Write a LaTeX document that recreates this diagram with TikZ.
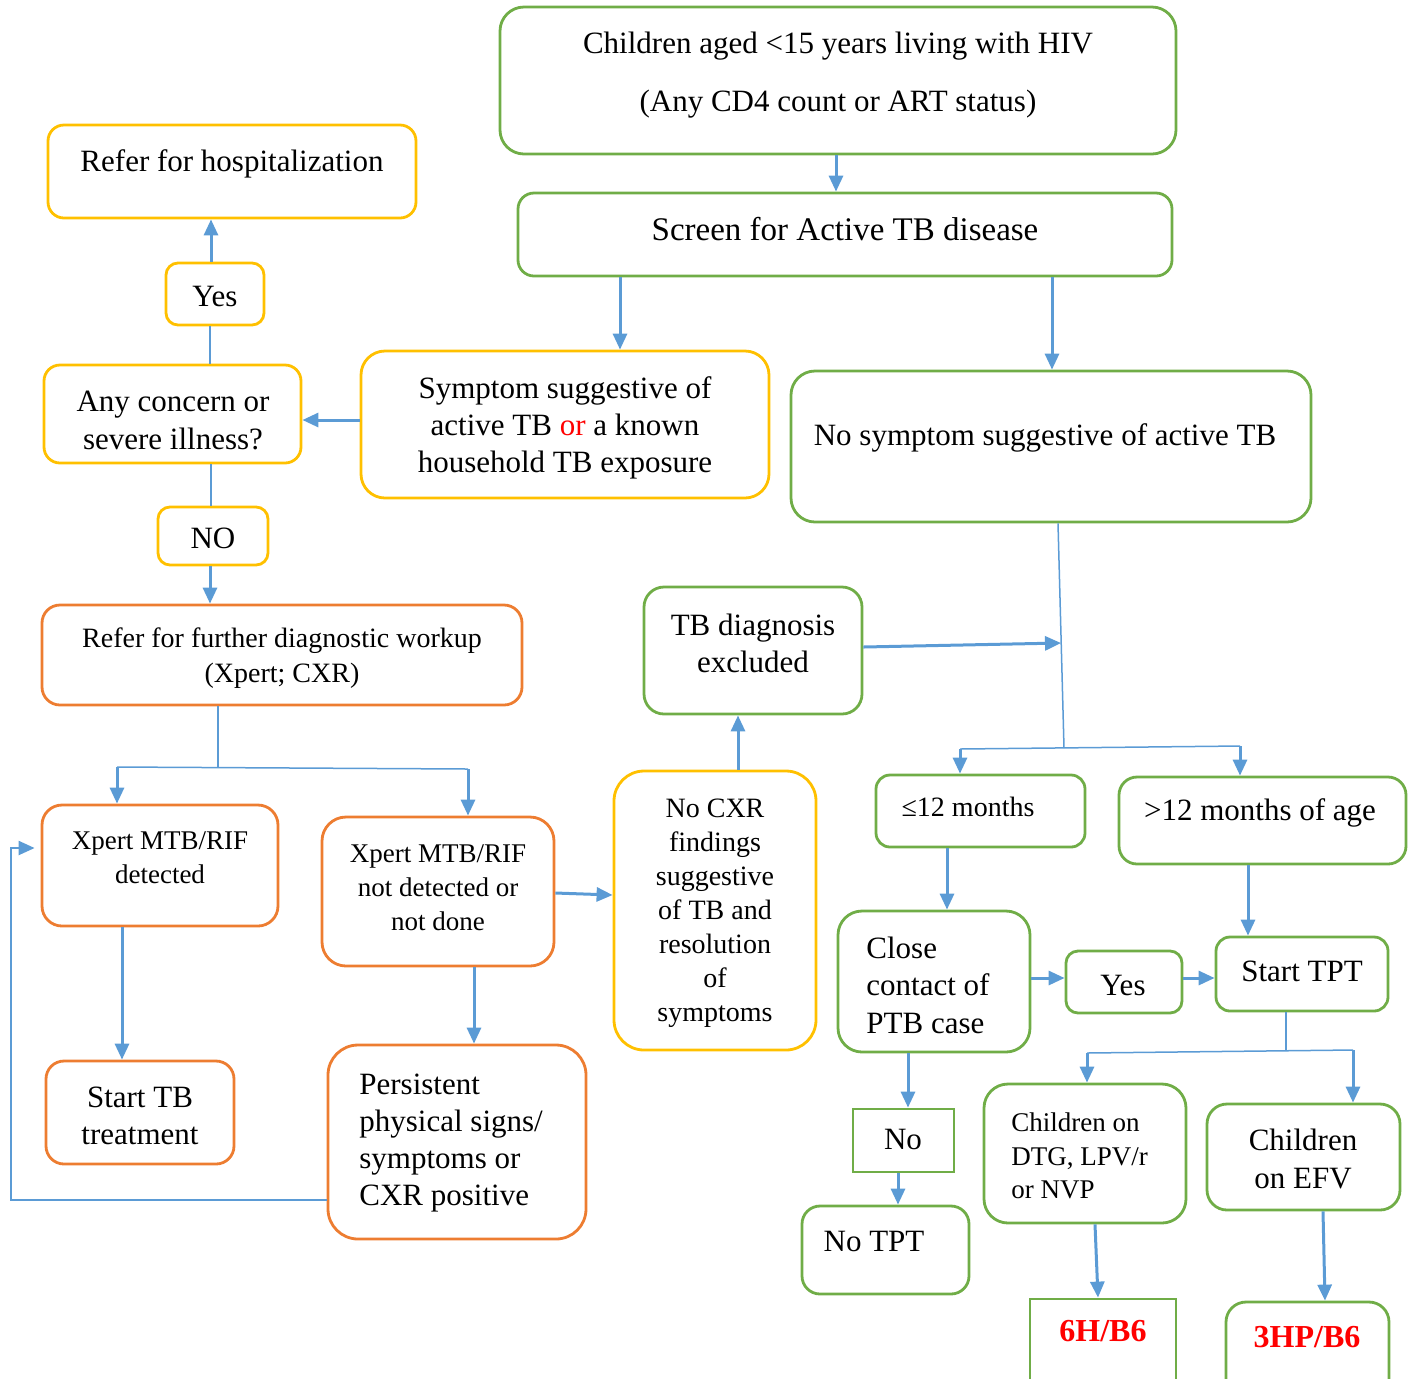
\documentclass[tikz,border=0pt]{standalone}
\usepackage{fontspec}
\setmainfont{Liberation Serif}
\usetikzlibrary{arrows.meta,fit}
\definecolor{gr}{HTML}{70AD47}
\definecolor{yl}{HTML}{FFC000}
\definecolor{og}{HTML}{ED7D31}
\definecolor{bl}{HTML}{5B9BD5}
\definecolor{rd}{HTML}{FF0000}
\newcommand\fsz[2]{\fontsize{#1}{#2}\selectfont}
\begin{document}
\begin{tikzpicture}[x=0.5pt,y=-0.5pt,
  box/.style={draw=#1, line width=1.4pt, inner sep=0pt},
  rc/.style={rounded corners=#1},
  txt/.style={inner sep=0pt, align=center},
  ltxt/.style={inner sep=0pt, align=left, anchor=west},
  arr/.style={draw=bl, line width=1.5pt, -{Triangle[length=8pt,width=7pt]}},
  ln/.style={draw=bl, line width=0.75pt},
  red/.style={text=rd, font=\fsz{16}{19}\bfseries}]
\useasboundingbox (0,0) rectangle (1413,1378);
\clip (0,0) rectangle (1413,1378);

% ---------- boxes ----------
\node[box=gr, rc=12pt, fit={(500,7) (1176,154)}] (top) {};
\node[box=gr, rc=8pt,  fit={(518,193) (1172,276)}] (scr) {};
\node[box=yl, rc=8pt,  fit={(48,125) (416,218)}] (hosp) {};
\node[box=yl, rc=6pt,  fit={(166,263) (264,325)}] (yes1) {};
\node[box=yl, rc=8pt,  fit={(44,365) (301,463)}] (conc) {};
\node[box=yl, rc=12pt, fit={(361,351) (769,498)}] (symp) {};
\node[box=gr, rc=12pt, fit={(791,371) (1311,522)}] (nosymp) {};
\node[box=yl, rc=6pt,  fit={(158,507) (268,565)}] (no1) {};
\node[box=og, rc=9pt,  fit={(42,605) (522,705)}] (refer) {};
\node[box=gr, rc=10pt, fit={(644,587) (862,714)}] (tbex) {};
\node[box=og, rc=10pt, fit={(42,805) (278,926)}] (xdet) {};
\node[box=og, rc=12pt, fit={(322,817) (554,966)}] (xnot) {};
\node[box=yl, rc=15pt, fit={(614,771) (816,1050)}] (nocxr) {};
\node[box=og, rc=9pt,  fit={(46,1061) (234,1164)}] (starttb) {};
\node[box=og, rc=15pt, fit={(328,1045) (586,1239)}] (pers) {};
\node[box=gr, rc=7pt,  fit={(876,775) (1085,847)}] (le12) {};
\node[box=gr, rc=9pt,  fit={(1119,777) (1406,864)}] (gt12) {};
\node[box=gr, rc=12pt, fit={(838,911) (1030,1052)}] (close) {};
\node[box=gr, rc=6pt,  fit={(1066,951) (1182,1013)}] (yes2) {};
\node[box=gr, rc=7pt,  fit={(1216,937) (1388,1011)}] (starttpt) {};
\node[box=gr,          fit={(853,1109) (954,1172)}] (no2) {};
\node[box=gr, rc=9pt,  fit={(802,1206) (969,1294)}] (notpt) {};
\node[box=gr, rc=12pt, fit={(984,1084) (1186,1223)}] (dtg) {};
\node[box=gr, rc=10pt, fit={(1207,1104) (1400,1210)}] (efv) {};
\node[box=gr,          fit={(1030,1299) (1176,1420)}] (h6) {};
\node[box=gr, rc=10pt, fit={(1226,1302) (1389,1420)}] (hp3) {};

% ---------- texts ----------
\node[txt, font=\fsz{15.5}{29}] (ttop) at (838,75) {Children aged <15 years living with HIV\\(Any CD4 count or ART status)};
\node[txt, font=\fsz{16.5}{19}] (tscr) at (845,229) {Screen for Active TB disease};
\node[txt, font=\fsz{15.5}{18.5}] (thosp) at (232,164) {Refer for hospitalization};
\node[txt, font=\fsz{15.5}{18.5}] (tyes1) at (215,296) {Yes};
\node[txt, font=\fsz{15.5}{19}] (tconc) at (173,420) {Any concern or\\severe illness?};
\node[txt, font=\fsz{15.5}{18.5}] (tsymp) at (565,428) {Symptom suggestive of\\active TB \textcolor{rd}{or} a known\\household TB exposure};
\node[txt, font=\fsz{15.5}{18.5}] (tnosymp) at (1045,438) {No symptom suggestive of active TB};
\node[txt, font=\fsz{15.5}{18.5}] (tno1) at (213,538) {NO};
\node[txt, font=\fsz{14}{17.5}] (trefer) at (282,658) {Refer for further diagnostic workup\\(Xpert; CXR)};
\node[txt, font=\fsz{15.5}{18.5}] (ttbex) at (753,643) {TB diagnosis\\excluded};
\node[txt, font=\fsz{13.5}{17}] (txdet) at (160,858) {Xpert MTB/RIF\\detected};
\node[txt, font=\fsz{13.5}{17}] (txnot) at (438,888) {Xpert MTB/RIF\\not detected or\\not done};
\node[txt, font=\fsz{14}{17}] (tnocxr) at (715,913) {No CXR\\findings\\suggestive\\of TB and\\resolution\\of\\symptoms};
\node[txt, font=\fsz{15.5}{18.5}] (tstarttb) at (140,1116) {Start TB\\treatment};
\node[ltxt, font=\fsz{15.5}{18.5}] (tpers) at (359,1143) {Persistent\\physical signs/\\symptoms or\\CXR positive};
\node[txt, font=\fsz{14}{17}] (tle12) at (968,807) {≤12 months};
\node[txt, font=\fsz{15.5}{18.5}] (tgt12) at (1260,813) {>12 months of age};
\node[ltxt, font=\fsz{15.5}{18.75}] (tclose) at (866,985) {Close\\contact of\\PTB case};
\node[txt, font=\fsz{15.5}{18.5}] (tyes2) at (1123,985) {Yes};
\node[txt, font=\fsz{15.5}{18.5}] (tstarttpt) at (1302,971) {Start TPT};
\node[txt, font=\fsz{15.5}{18.5}] (tno2) at (903,1139) {No};
\node[txt, font=\fsz{15.5}{18.5}] (tnotpt) at (874,1241) {No TPT};
\node[ltxt, font=\fsz{13.5}{16.75}] (tdtg) at (1011,1156) {Children on\\DTG, LPV/r\\or NVP};
\node[txt, font=\fsz{15.5}{19}] (tefv) at (1303,1159) {Children\\on EFV};
\node[txt, red] (th6) at (1103,1331) {6H/B6};
\node[txt, red] (thp3) at (1307,1337) {3HP/B6};

% ---------- junction points ----------
\coordinate (jrefer) at (218,767);
\coordinate (jl) at (117,767);
\coordinate (jr) at (468,769);
\coordinate (jtrunk) at (1064,748);
\coordinate (jtbex) at (1061,643);
\coordinate (jle) at (960,749);
\coordinate (jgt) at (1240,746);
\coordinate (jtpt) at (1286,1051);
\coordinate (jdtg) at (1087,1053);
\coordinate (jefv) at (1353,1050);
\coordinate (lpa) at (11,1200);
\coordinate (lpb) at (11,848);

% ---------- connectors ----------
\draw[arr] (836,0 |- top.south) -- (836,0 |- scr.north);
\draw[arr] (620,0 |- scr.south) -- (620,0 |- symp.north);
\draw[arr] (1052,0 |- scr.south) -- (1052,0 |- nosymp.north);
\draw[arr] (symp.west |- 0,420) -- (conc.east |- 0,420);
\draw[ln]  (210,0 |- conc.north) -- (210,0 |- yes1.south);
\draw[arr] (211,0 |- yes1.north) -- (211,0 |- hosp.south);
\draw[ln]  (211,0 |- conc.south) -- (211,0 |- no1.north);
\draw[arr] (210,0 |- no1.south) -- (210,0 |- refer.north);

\draw[ln]  (218,0 |- refer.south) -- (jrefer);
\draw[ln]  (jl) -- (jr);
\draw[arr] (jl) -- (117,0 |- xdet.north);
\draw[arr] (jr) -- (468,0 |- xnot.north);
\draw[arr] (122,0 |- xdet.south) -- (122,0 |- starttb.north);
\draw[arr] (474,0 |- xnot.south) -- (474,0 |- pers.north);
\draw[arr] (xnot.east |- 0,893) -- (nocxr.west |- 0,895);
\draw[arr, line width=1.1pt, shorten >=3pt] (pers.west |- lpa) -- (lpa) -- (lpb) -- (xdet.west |- lpb);
\draw[arr] (738,0 |- nocxr.north) -- (738,0 |- tbex.south);

\draw[ln]  (1058,0 |- nosymp.south) -- (jtrunk);
\draw[arr] (tbex.east |- 0,647) -- (jtbex);
\draw[ln]  (jle) -- (jgt);
\draw[arr] (jle) -- (960,0 |- le12.north);
\draw[arr] (jgt) -- (1240,0 |- gt12.north);
\draw[arr] (947,0 |- le12.south) -- (947,0 |- close.north);
\draw[arr] (close.east |- 0,978) -- (yes2.west |- 0,978);
\draw[arr] (yes2.east |- 0,978) -- (starttpt.west |- 0,978);
\draw[arr] (1248,0 |- gt12.south) -- (1248,0 |- starttpt.north);

\draw[ln]  (1286,0 |- starttpt.south) -- (jtpt);
\draw[ln]  (jdtg) -- (jefv);
\draw[arr] (jdtg) -- (1087,0 |- dtg.north);
\draw[arr] (jefv) -- (1353,0 |- efv.north);
\draw[arr] (908,0 |- close.south) -- (908,0 |- no2.north);
\draw[arr] (898,0 |- no2.south) -- (898,0 |- notpt.north);
\draw[arr] (1095,0 |- dtg.south) -- (1098,0 |- h6.north);
\draw[arr] (1323,0 |- efv.south) -- (1325,0 |- hp3.north);
\end{tikzpicture}
\end{document}
